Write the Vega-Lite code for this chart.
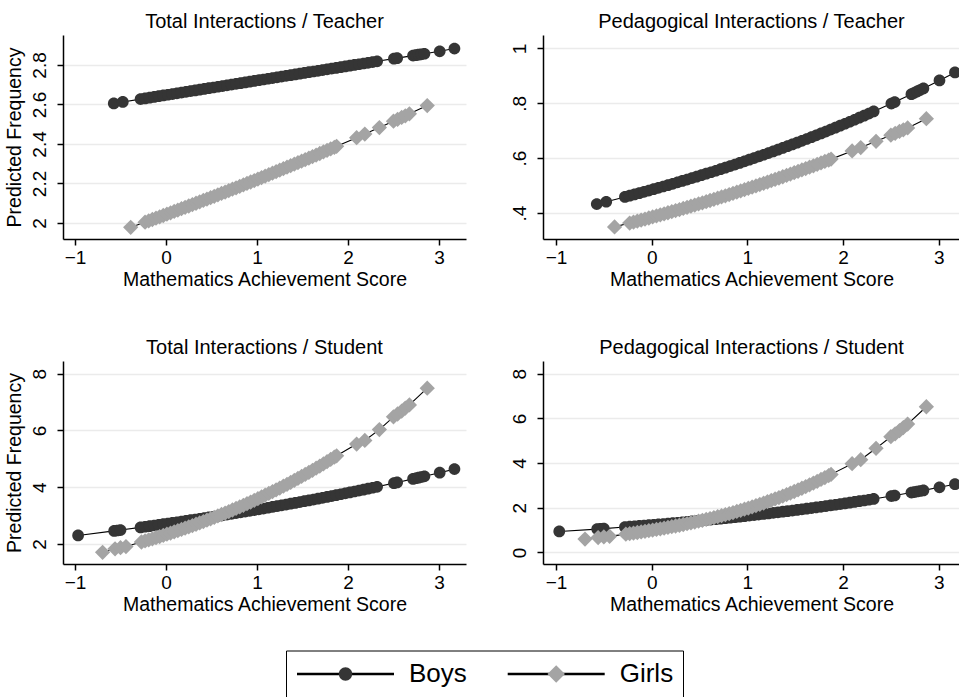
{
  "$schema": "https://vega.github.io/schema/vega-lite/v6.json",
  "padding": {"left": 4, "top": 11, "right": 0, "bottom": 0},
  "background": "white",
  "data": {"values": [
    {"g":"Boys","x":-0.966,"tt":null,"pt":null,"ts":2.303,"ps":0.94},
    {"g":"Boys","x":-0.574,"tt":2.6054,"pt":0.4326,"ts":null,"ps":null},
    {"g":"Boys","x":-0.57,"tt":null,"pt":null,"ts":2.4625,"ps":1.0445},
    {"g":"Boys","x":-0.535,"tt":null,"pt":null,"ts":2.4772,"ps":1.0551},
    {"g":"Boys","x":-0.5,"tt":null,"pt":null,"ts":2.4919,"ps":1.0657},
    {"g":"Boys","x":-0.475,"tt":2.6127,"pt":0.4412,"ts":null,"ps":null},
    {"g":"Boys","x":-0.28,"tt":2.627,"pt":0.4587,"ts":2.5864,"ps":1.1351},
    {"g":"Boys","x":-0.23,"tt":2.6307,"pt":0.4633,"ts":2.6084,"ps":1.1515},
    {"g":"Boys","x":-0.18,"tt":2.6344,"pt":0.4679,"ts":2.6306,"ps":1.1681},
    {"g":"Boys","x":-0.13,"tt":2.638,"pt":0.4726,"ts":2.653,"ps":1.185},
    {"g":"Boys","x":-0.08,"tt":2.6417,"pt":0.4773,"ts":2.6755,"ps":1.2021},
    {"g":"Boys","x":-0.03,"tt":2.6454,"pt":0.4821,"ts":2.6982,"ps":1.2195},
    {"g":"Boys","x":0.02,"tt":2.6491,"pt":0.4869,"ts":2.7211,"ps":1.2371},
    {"g":"Boys","x":0.07,"tt":2.6527,"pt":0.4918,"ts":2.7443,"ps":1.255},
    {"g":"Boys","x":0.12,"tt":2.6564,"pt":0.4967,"ts":2.7676,"ps":1.2731},
    {"g":"Boys","x":0.17,"tt":2.6601,"pt":0.5017,"ts":2.7911,"ps":1.2915},
    {"g":"Boys","x":0.22,"tt":2.6638,"pt":0.5067,"ts":2.8148,"ps":1.3101},
    {"g":"Boys","x":0.27,"tt":2.6675,"pt":0.5118,"ts":2.8388,"ps":1.329},
    {"g":"Boys","x":0.32,"tt":2.6711,"pt":0.5169,"ts":2.8629,"ps":1.3482},
    {"g":"Boys","x":0.37,"tt":2.6748,"pt":0.5221,"ts":2.8872,"ps":1.3677},
    {"g":"Boys","x":0.42,"tt":2.6785,"pt":0.5273,"ts":2.9118,"ps":1.3875},
    {"g":"Boys","x":0.47,"tt":2.6822,"pt":0.5326,"ts":2.9365,"ps":1.4075},
    {"g":"Boys","x":0.52,"tt":2.6858,"pt":0.5379,"ts":2.9615,"ps":1.4278},
    {"g":"Boys","x":0.57,"tt":2.6895,"pt":0.5433,"ts":2.9867,"ps":1.4484},
    {"g":"Boys","x":0.62,"tt":2.6932,"pt":0.5487,"ts":3.0121,"ps":1.4693},
    {"g":"Boys","x":0.67,"tt":2.6969,"pt":0.5542,"ts":3.0377,"ps":1.4905},
    {"g":"Boys","x":0.72,"tt":2.7006,"pt":0.5598,"ts":3.0635,"ps":1.5121},
    {"g":"Boys","x":0.77,"tt":2.7042,"pt":0.5654,"ts":3.0895,"ps":1.5339},
    {"g":"Boys","x":0.82,"tt":2.7079,"pt":0.5711,"ts":3.1158,"ps":1.5561},
    {"g":"Boys","x":0.87,"tt":2.7116,"pt":0.5768,"ts":3.1423,"ps":1.5785},
    {"g":"Boys","x":0.92,"tt":2.7153,"pt":0.5826,"ts":3.169,"ps":1.6013},
    {"g":"Boys","x":0.97,"tt":2.7189,"pt":0.5884,"ts":3.1959,"ps":1.6245},
    {"g":"Boys","x":1.02,"tt":2.7226,"pt":0.5943,"ts":3.2231,"ps":1.6479},
    {"g":"Boys","x":1.07,"tt":2.7263,"pt":0.6003,"ts":3.2505,"ps":1.6717},
    {"g":"Boys","x":1.12,"tt":2.73,"pt":0.6063,"ts":3.2781,"ps":1.6959},
    {"g":"Boys","x":1.17,"tt":2.7337,"pt":0.6124,"ts":3.306,"ps":1.7204},
    {"g":"Boys","x":1.22,"tt":2.7373,"pt":0.6185,"ts":3.3341,"ps":1.7452},
    {"g":"Boys","x":1.27,"tt":2.741,"pt":0.6247,"ts":3.3624,"ps":1.7704},
    {"g":"Boys","x":1.32,"tt":2.7447,"pt":0.631,"ts":3.391,"ps":1.796},
    {"g":"Boys","x":1.37,"tt":2.7484,"pt":0.6373,"ts":3.4198,"ps":1.8219},
    {"g":"Boys","x":1.42,"tt":2.752,"pt":0.6437,"ts":3.4489,"ps":1.8483},
    {"g":"Boys","x":1.47,"tt":2.7557,"pt":0.6501,"ts":3.4782,"ps":1.8749},
    {"g":"Boys","x":1.52,"tt":2.7594,"pt":0.6566,"ts":3.5078,"ps":1.902},
    {"g":"Boys","x":1.57,"tt":2.7631,"pt":0.6632,"ts":3.5376,"ps":1.9295},
    {"g":"Boys","x":1.62,"tt":2.7668,"pt":0.6698,"ts":3.5677,"ps":1.9574},
    {"g":"Boys","x":1.67,"tt":2.7704,"pt":0.6765,"ts":3.598,"ps":1.9856},
    {"g":"Boys","x":1.72,"tt":2.7741,"pt":0.6833,"ts":3.6286,"ps":2.0143},
    {"g":"Boys","x":1.77,"tt":2.7778,"pt":0.6901,"ts":3.6594,"ps":2.0434},
    {"g":"Boys","x":1.82,"tt":2.7815,"pt":0.697,"ts":3.6905,"ps":2.0729},
    {"g":"Boys","x":1.87,"tt":2.7851,"pt":0.704,"ts":3.7219,"ps":2.1029},
    {"g":"Boys","x":1.92,"tt":2.7888,"pt":0.7111,"ts":3.7535,"ps":2.1332},
    {"g":"Boys","x":1.97,"tt":2.7925,"pt":0.7182,"ts":3.7854,"ps":2.164},
    {"g":"Boys","x":2.02,"tt":2.7962,"pt":0.7254,"ts":3.8176,"ps":2.1953},
    {"g":"Boys","x":2.07,"tt":2.7999,"pt":0.7327,"ts":3.8501,"ps":2.227},
    {"g":"Boys","x":2.12,"tt":2.8035,"pt":0.74,"ts":3.8828,"ps":2.2592},
    {"g":"Boys","x":2.17,"tt":2.8072,"pt":0.7474,"ts":3.9158,"ps":2.2918},
    {"g":"Boys","x":2.22,"tt":2.8109,"pt":0.7549,"ts":3.9491,"ps":2.3249},
    {"g":"Boys","x":2.27,"tt":2.8146,"pt":0.7625,"ts":3.9827,"ps":2.3585},
    {"g":"Boys","x":2.32,"tt":2.8183,"pt":0.7701,"ts":4.0166,"ps":2.3925},
    {"g":"Boys","x":2.505,"tt":2.8319,"pt":0.799,"ts":4.1445,"ps":2.523},
    {"g":"Boys","x":2.54,"tt":2.8344,"pt":0.8046,"ts":4.1692,"ps":2.5485},
    {"g":"Boys","x":2.715,"tt":2.8473,"pt":0.8332,"ts":4.2946,"ps":2.6797},
    {"g":"Boys","x":2.745,"tt":2.8495,"pt":0.8382,"ts":4.3164,"ps":2.7028},
    {"g":"Boys","x":2.775,"tt":2.8517,"pt":0.8433,"ts":4.3384,"ps":2.7262},
    {"g":"Boys","x":2.805,"tt":2.8539,"pt":0.8483,"ts":4.3606,"ps":2.7497},
    {"g":"Boys","x":2.84,"tt":2.8565,"pt":0.8542,"ts":4.3864,"ps":2.7773},
    {"g":"Boys","x":3.008,"tt":2.8689,"pt":0.8833,"ts":4.5133,"ps":2.9145},
    {"g":"Boys","x":3.17,"tt":2.883,"pt":0.9123,"ts":4.6386,"ps":3.0532},
    {"g":"Girls","x":-0.697,"tt":null,"pt":null,"ts":1.708,"ps":0.6},
    {"g":"Girls","x":-0.56,"tt":null,"pt":null,"ts":1.83,"ps":0.665},
    {"g":"Girls","x":-0.5,"tt":null,"pt":null,"ts":1.87,"ps":0.694},
    {"g":"Girls","x":-0.44,"tt":null,"pt":null,"ts":1.91,"ps":0.72},
    {"g":"Girls","x":-0.388,"tt":1.9781,"pt":0.3496,"ts":null,"ps":null},
    {"g":"Girls","x":-0.27,"tt":null,"pt":null,"ts":2.0716,"ps":0.8191},
    {"g":"Girls","x":-0.23,"tt":2.0043,"pt":0.3636,"ts":2.1089,"ps":0.8428},
    {"g":"Girls","x":-0.19,"tt":2.011,"pt":0.3672,"ts":2.1468,"ps":0.8672},
    {"g":"Girls","x":-0.15,"tt":2.0177,"pt":0.3709,"ts":2.1852,"ps":0.8923},
    {"g":"Girls","x":-0.11,"tt":2.0244,"pt":0.3746,"ts":2.2243,"ps":0.918},
    {"g":"Girls","x":-0.07,"tt":2.0312,"pt":0.3783,"ts":2.264,"ps":0.9445},
    {"g":"Girls","x":-0.03,"tt":2.038,"pt":0.382,"ts":2.3043,"ps":0.9716},
    {"g":"Girls","x":0.01,"tt":2.0448,"pt":0.3858,"ts":2.3453,"ps":0.9994},
    {"g":"Girls","x":0.05,"tt":2.0516,"pt":0.3895,"ts":2.3868,"ps":1.028},
    {"g":"Girls","x":0.09,"tt":2.0584,"pt":0.3934,"ts":2.429,"ps":1.0573},
    {"g":"Girls","x":0.13,"tt":2.0653,"pt":0.3972,"ts":2.4719,"ps":1.0874},
    {"g":"Girls","x":0.17,"tt":2.0722,"pt":0.4011,"ts":2.5154,"ps":1.1183},
    {"g":"Girls","x":0.21,"tt":2.0791,"pt":0.405,"ts":2.5596,"ps":1.15},
    {"g":"Girls","x":0.25,"tt":2.086,"pt":0.409,"ts":2.6045,"ps":1.1825},
    {"g":"Girls","x":0.29,"tt":2.093,"pt":0.4129,"ts":2.6501,"ps":1.2159},
    {"g":"Girls","x":0.33,"tt":2.1,"pt":0.4169,"ts":2.6963,"ps":1.2502},
    {"g":"Girls","x":0.37,"tt":2.107,"pt":0.421,"ts":2.7433,"ps":1.2853},
    {"g":"Girls","x":0.41,"tt":2.114,"pt":0.425,"ts":2.7909,"ps":1.3214},
    {"g":"Girls","x":0.45,"tt":2.1211,"pt":0.4291,"ts":2.8393,"ps":1.3583},
    {"g":"Girls","x":0.49,"tt":2.1281,"pt":0.4333,"ts":2.8885,"ps":1.3963},
    {"g":"Girls","x":0.53,"tt":2.1352,"pt":0.4374,"ts":2.9383,"ps":1.4352},
    {"g":"Girls","x":0.57,"tt":2.1424,"pt":0.4416,"ts":2.9889,"ps":1.4751},
    {"g":"Girls","x":0.61,"tt":2.1495,"pt":0.4458,"ts":3.0402,"ps":1.516},
    {"g":"Girls","x":0.65,"tt":2.1567,"pt":0.4501,"ts":3.0923,"ps":1.558},
    {"g":"Girls","x":0.69,"tt":2.1639,"pt":0.4544,"ts":3.1453,"ps":1.601},
    {"g":"Girls","x":0.73,"tt":2.1711,"pt":0.4587,"ts":3.1989,"ps":1.6451},
    {"g":"Girls","x":0.77,"tt":2.1783,"pt":0.463,"ts":3.2534,"ps":1.6903},
    {"g":"Girls","x":0.81,"tt":2.1856,"pt":0.4674,"ts":3.3086,"ps":1.7367},
    {"g":"Girls","x":0.85,"tt":2.1929,"pt":0.4719,"ts":3.3647,"ps":1.7843},
    {"g":"Girls","x":0.89,"tt":2.2002,"pt":0.4763,"ts":3.4216,"ps":1.833},
    {"g":"Girls","x":0.93,"tt":2.2075,"pt":0.4808,"ts":3.4793,"ps":1.8829},
    {"g":"Girls","x":0.97,"tt":2.2149,"pt":0.4853,"ts":3.5378,"ps":1.9341},
    {"g":"Girls","x":1.01,"tt":2.2223,"pt":0.4898,"ts":3.5972,"ps":1.9866},
    {"g":"Girls","x":1.05,"tt":2.2297,"pt":0.4944,"ts":3.6575,"ps":2.0404},
    {"g":"Girls","x":1.09,"tt":2.2371,"pt":0.499,"ts":3.7186,"ps":2.0955},
    {"g":"Girls","x":1.13,"tt":2.2446,"pt":0.5037,"ts":3.7806,"ps":2.152},
    {"g":"Girls","x":1.17,"tt":2.2521,"pt":0.5084,"ts":3.8434,"ps":2.2099},
    {"g":"Girls","x":1.21,"tt":2.2596,"pt":0.5131,"ts":3.9072,"ps":2.2692},
    {"g":"Girls","x":1.25,"tt":2.2671,"pt":0.5178,"ts":3.9719,"ps":2.3299},
    {"g":"Girls","x":1.29,"tt":2.2747,"pt":0.5226,"ts":4.0375,"ps":2.3921},
    {"g":"Girls","x":1.33,"tt":2.2823,"pt":0.5274,"ts":4.104,"ps":2.4558},
    {"g":"Girls","x":1.37,"tt":2.2899,"pt":0.5323,"ts":4.1715,"ps":2.5211},
    {"g":"Girls","x":1.41,"tt":2.2975,"pt":0.5371,"ts":4.2399,"ps":2.588},
    {"g":"Girls","x":1.45,"tt":2.3052,"pt":0.5421,"ts":4.3093,"ps":2.6565},
    {"g":"Girls","x":1.49,"tt":2.3129,"pt":0.547,"ts":4.3796,"ps":2.7266},
    {"g":"Girls","x":1.53,"tt":2.3206,"pt":0.552,"ts":4.4509,"ps":2.7984},
    {"g":"Girls","x":1.57,"tt":2.3283,"pt":0.557,"ts":4.5232,"ps":2.872},
    {"g":"Girls","x":1.61,"tt":2.3361,"pt":0.5621,"ts":4.5965,"ps":2.9473},
    {"g":"Girls","x":1.65,"tt":2.3439,"pt":0.5672,"ts":4.6708,"ps":3.0244},
    {"g":"Girls","x":1.69,"tt":2.3517,"pt":0.5723,"ts":4.7461,"ps":3.1033},
    {"g":"Girls","x":1.73,"tt":2.3595,"pt":0.5775,"ts":4.8225,"ps":3.1841},
    {"g":"Girls","x":1.77,"tt":2.3674,"pt":0.5827,"ts":4.8999,"ps":3.2668},
    {"g":"Girls","x":1.81,"tt":2.3753,"pt":0.5879,"ts":4.9783,"ps":3.3515},
    {"g":"Girls","x":1.85,"tt":2.3832,"pt":0.5932,"ts":5.0578,"ps":3.4381},
    {"g":"Girls","x":1.875,"tt":2.3879,"pt":0.5965,"ts":5.108,"ps":3.4933},
    {"g":"Girls","x":2.095,"tt":2.432,"pt":0.6262,"ts":5.52,"ps":3.97},
    {"g":"Girls","x":2.185,"tt":2.4503,"pt":0.6387,"ts":5.65,"ps":4.15},
    {"g":"Girls","x":2.345,"tt":2.4831,"pt":0.6614,"ts":6.03,"ps":4.66},
    {"g":"Girls","x":2.5,"tt":2.5154,"pt":0.6839,"ts":6.48,"ps":5.18},
    {"g":"Girls","x":2.545,"tt":2.5248,"pt":0.6905,"ts":6.58,"ps":5.31},
    {"g":"Girls","x":2.59,"tt":2.5343,"pt":0.6972,"ts":6.68,"ps":5.45},
    {"g":"Girls","x":2.63,"tt":2.5427,"pt":0.7032,"ts":6.79,"ps":5.59},
    {"g":"Girls","x":2.675,"tt":2.5523,"pt":0.71,"ts":6.9,"ps":5.744},
    {"g":"Girls","x":2.871,"tt":2.5942,"pt":0.744,"ts":7.49,"ps":6.52}
  ]},
  "columns": 2,
  "spacing": {"row": 122, "column": 77},
  "bounds": "flush",
  "align": "each",
  "concat": [
    {
      "title": "Total Interactions / Teacher",
      "width": 403, "height": 204,
      "layer": [
        {"mark": {"type": "line", "strokeWidth": 1.1, "invalid": "filter"},
         "encoding": {
           "x": {"field": "x", "type": "quantitative", "scale": {"domain": [-1.132, 3.297], "nice": false, "zero": false}, "axis": {"values": [-1,0,1,2,3], "format": "d", "title": "Mathematics Achievement Score"}},
           "y": {"field": "tt", "type": "quantitative", "scale": {"domain": [1.919, 2.9515], "nice": false, "zero": false}, "axis": {"values": [2,2.2,2.4,2.6,2.8], "format": "~g", "title": "Predicted Frequency"}},
           "stroke": {"field": "g", "type": "nominal", "scale": {"range": ["black","black"]},
             "legend": {"orient": "none", "legendX": 223, "legendY": 615.5, "direction": "horizontal", "title": null,
               "symbolType": "M-1,0L-0.12,0M0.12,0L1,0", "symbolSize": 9409, "symbolStrokeWidth": 2.5, "symbolStrokeColor": "black",
               "labelFontSize": 26, "labelFont": "Liberation Sans", "labelColor": "black", "labelOffset": 13.5,
               "columnPadding": 38.7, "padding": 9.5, "clipHeight": 28, "strokeColor": "black"}}
         }},
        {"mark": {"type": "point", "filled": true, "opacity": 1, "size": 7200, "invalid": "filter"},
         "encoding": {
           "x": {"field": "x", "type": "quantitative", "scale": {"domain": [-1.132, 3.297], "nice": false, "zero": false}},
           "y": {"field": "tt", "type": "quantitative", "scale": {"domain": [1.919, 2.9515], "nice": false, "zero": false}},
           "fill": {"field": "g", "type": "nominal", "scale": {"domain": ["Boys","Girls"], "range": ["#353535","#a4a4a4"]},
             "legend": {"orient": "none", "legendX": 223, "legendY": 615.5, "direction": "horizontal", "title": null,
               "symbolSize": 9409, "symbolStrokeWidth": 2.5, "symbolStrokeColor": "transparent",
               "labelFontSize": 26, "labelFont": "Liberation Sans", "labelColor": "black", "labelOpacity": 0, "labelOffset": 13.5,
               "columnPadding": 38.7, "padding": 9.5, "clipHeight": 28}},
           "shape": {"field": "g", "type": "nominal", "scale": {"domain": ["Boys","Girls"], "range": ["M0.138,0A0.138,0.138,0,1,1,-0.138,0A0.138,0.138,0,1,1,0.138,0Z","M0,-0.18L0.18,0L0,0.18L-0.18,0Z"]}}
         }}
      ]
    },
    {
      "title": "Pedagogical Interactions / Teacher",
      "width": 417, "height": 204,
      "layer": [
        {"mark": {"type": "line", "strokeWidth": 1.1, "invalid": "filter"},
         "encoding": {
           "x": {"field": "x", "type": "quantitative", "scale": {"domain": [-1.136, 3.2226], "nice": false, "zero": false}, "axis": {"values": [-1,0,1,2,3], "format": "d", "title": "Mathematics Achievement Score"}},
           "y": {"field": "pt", "type": "quantitative", "scale": {"domain": [0.3055, 1.0487], "nice": false, "zero": false}, "axis": {"values": [0.4,0.6,0.8,1], "labelExpr": "datum.value < 0.99 ? '.' + format(datum.value * 10, 'd') : '1'", "title": null}},
           "stroke": {"field": "g", "type": "nominal", "scale": {"range": ["black","black"]}}
         }},
        {"mark": {"type": "point", "filled": true, "opacity": 1, "size": 7200, "invalid": "filter"},
         "encoding": {
           "x": {"field": "x", "type": "quantitative", "scale": {"domain": [-1.136, 3.2226], "nice": false, "zero": false}},
           "y": {"field": "pt", "type": "quantitative", "scale": {"domain": [0.3055, 1.0487], "nice": false, "zero": false}},
           "fill": {"field": "g", "type": "nominal", "scale": {"domain": ["Boys","Girls"], "range": ["#353535","#a4a4a4"]}},
           "shape": {"field": "g", "type": "nominal", "scale": {"domain": ["Boys","Girls"], "range": ["M0.138,0A0.138,0.138,0,1,1,-0.138,0A0.138,0.138,0,1,1,0.138,0Z","M0,-0.18L0.18,0L0,0.18L-0.18,0Z"]}}
         }}
      ]
    },
    {
      "title": "Total Interactions / Student",
      "width": 403, "height": 203,
      "layer": [
        {"mark": {"type": "line", "strokeWidth": 1.1, "invalid": "filter"},
         "encoding": {
           "x": {"field": "x", "type": "quantitative", "scale": {"domain": [-1.132, 3.297], "nice": false, "zero": false}, "axis": {"values": [-1,0,1,2,3], "format": "d", "title": "Mathematics Achievement Score"}},
           "y": {"field": "ts", "type": "quantitative", "scale": {"domain": [1.2965, 8.447], "nice": false, "zero": false}, "axis": {"values": [2,4,6,8], "format": "d", "title": "Predicted Frequency"}},
           "stroke": {"field": "g", "type": "nominal", "scale": {"range": ["black","black"]}}
         }},
        {"mark": {"type": "point", "filled": true, "opacity": 1, "size": 7200, "invalid": "filter"},
         "encoding": {
           "x": {"field": "x", "type": "quantitative", "scale": {"domain": [-1.132, 3.297], "nice": false, "zero": false}},
           "y": {"field": "ts", "type": "quantitative", "scale": {"domain": [1.2965, 8.447], "nice": false, "zero": false}},
           "fill": {"field": "g", "type": "nominal", "scale": {"domain": ["Boys","Girls"], "range": ["#353535","#a4a4a4"]}},
           "shape": {"field": "g", "type": "nominal", "scale": {"domain": ["Boys","Girls"], "range": ["M0.138,0A0.138,0.138,0,1,1,-0.138,0A0.138,0.138,0,1,1,0.138,0Z","M0,-0.18L0.18,0L0,0.18L-0.18,0Z"]}}
         }}
      ]
    },
    {
      "title": "Pedagogical Interactions / Student",
      "width": 417, "height": 203,
      "layer": [
        {"mark": {"type": "line", "strokeWidth": 1.1, "invalid": "filter"},
         "encoding": {
           "x": {"field": "x", "type": "quantitative", "scale": {"domain": [-1.136, 3.2226], "nice": false, "zero": false}, "axis": {"values": [-1,0,1,2,3], "format": "d", "title": "Mathematics Achievement Score"}},
           "y": {"field": "ps", "type": "quantitative", "scale": {"domain": [-0.518, 8.568], "nice": false, "zero": false}, "axis": {"values": [0,2,4,6,8], "format": "d", "title": null}},
           "stroke": {"field": "g", "type": "nominal", "scale": {"range": ["black","black"]}}
         }},
        {"mark": {"type": "point", "filled": true, "opacity": 1, "size": 7200, "invalid": "filter"},
         "encoding": {
           "x": {"field": "x", "type": "quantitative", "scale": {"domain": [-1.136, 3.2226], "nice": false, "zero": false}},
           "y": {"field": "ps", "type": "quantitative", "scale": {"domain": [-0.518, 8.568], "nice": false, "zero": false}},
           "fill": {"field": "g", "type": "nominal", "scale": {"domain": ["Boys","Girls"], "range": ["#353535","#a4a4a4"]}},
           "shape": {"field": "g", "type": "nominal", "scale": {"domain": ["Boys","Girls"], "range": ["M0.138,0A0.138,0.138,0,1,1,-0.138,0A0.138,0.138,0,1,1,0.138,0Z","M0,-0.18L0.18,0L0,0.18L-0.18,0Z"]}}
         }}
      ]
    }
  ],
  "config": {
    "font": "Liberation Sans",
    "view": {"stroke": null},
    "axis": {"domainColor": "black", "domainWidth": 1.5, "tickColor": "black", "tickWidth": 1.5, "tickSize": 6,
      "labelFont": "Liberation Sans", "labelFontSize": 19, "labelColor": "black",
      "titleFont": "Liberation Sans", "titleFontSize": 19.5, "titleFontWeight": "normal", "titleColor": "black",
      "gridColor": "#ebebeb", "gridWidth": 1.5},
    "axisX": {"grid": false, "labelPadding": 3, "titlePadding": 3},
    "axisY": {"grid": true, "labelAngle": -90, "labelAlign": "center", "labelBaseline": "bottom", "labelPadding": 8, "titlePadding": 6},
    "title": {"font": "Liberation Sans", "fontSize": 20, "fontWeight": "normal", "color": "black", "offset": 3.3, "baseline": "alphabetic", "anchor": "middle"}
  }
}
